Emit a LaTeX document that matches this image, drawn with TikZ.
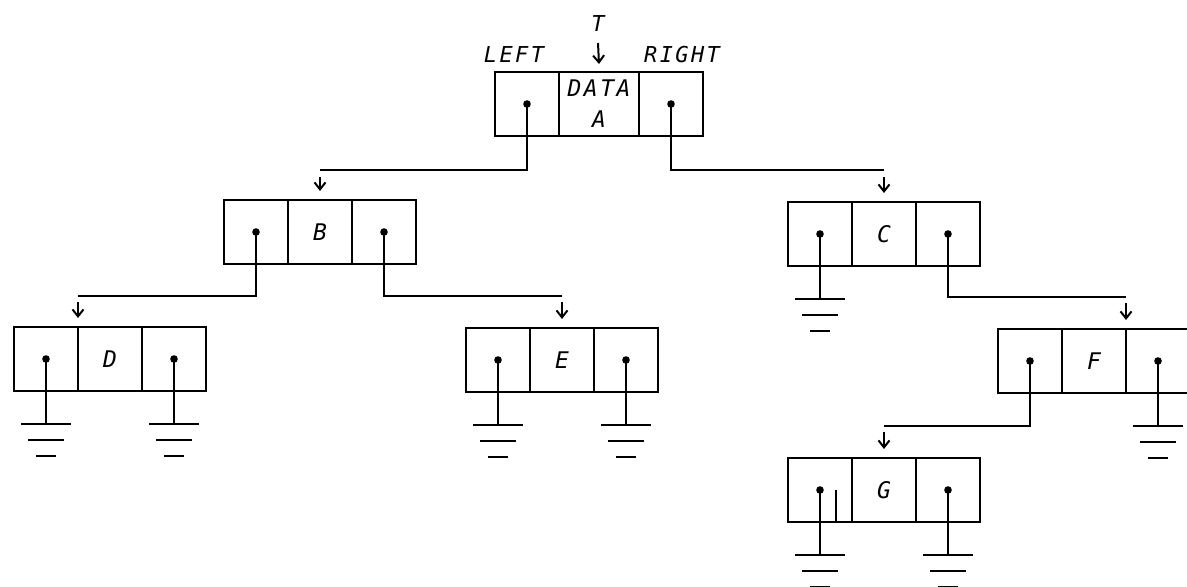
\documentclass[tikz,border=0pt]{standalone}
\usepackage{fontspec}
\newfontfamily\plotfont{DejaVu Sans Mono}[LetterSpace=11]
\usetikzlibrary{arrows.meta}
\begin{document}
\begin{tikzpicture}[x=1bp,y=-1bp,line width=2bp,
  txt/.style={font=\plotfont\itshape\fontsize{22}{31}\selectfont, inner sep=0pt},
  cell/.style={draw, rectangle, minimum width=64bp, minimum height=64bp,
    inner sep=0pt, outer sep=0pt, font=\plotfont\itshape\fontsize{23}{31}\selectfont},
  ptr/.style={cell, path picture={\fill (path picture bounding box.center) circle (3.8bp);}},
  down/.style={-{Straight Barb[length=7bp,width=11bp,line width=2bp]}, line width=2bp},
  earth/.pic={\draw (-25,0) -- (25,0); \draw (-18,16) -- (18,16); \draw (-10,32) -- (10,32);}
]
\useasboundingbox (0,0) rectangle (1187,587);
\clip (0,0) rectangle (1187,587);

% root record A
\node[ptr] (Al) at (527,104) {};
\node[cell, minimum width=80bp, align=center, anchor=west] (Ad) at (Al.east) {DATA\\A};
\node[ptr, anchor=west] (Ar) at (Ad.east) {};
\node[txt, anchor=base] (lblL) at (514,63) {LEFT};
\node[txt, anchor=base] (lblR) at (682,63) {RIGHT};
\node[txt, anchor=base] (T) at (598,32) {T};
\draw[down] ([yshift=-11bp]T.base) -- ([yshift=8bp]Ad.north);

% record B
\node[ptr] (Bl) at (256,232) {};
\node[cell, anchor=west] (Bd) at (Bl.east) {B};
\node[ptr, anchor=west] (Br) at (Bd.east) {};

% record C
\node[ptr] (Cl) at (820,234) {};
\node[cell, anchor=west] (Cd) at (Cl.east) {C};
\node[ptr, anchor=west] (Cr) at (Cd.east) {};

% record D
\node[ptr] (Dl) at (46,359) {};
\node[cell, anchor=west] (Dd) at (Dl.east) {D};
\node[ptr, anchor=west] (Dr) at (Dd.east) {};

% record E
\node[ptr] (El) at (498,360) {};
\node[cell, anchor=west] (Ed) at (El.east) {E};
\node[ptr, anchor=west] (Er) at (Ed.east) {};

% record F
\node[ptr] (Fl) at (1030,361) {};
\node[cell, anchor=west] (Fd) at (Fl.east) {F};
\node[ptr, anchor=west] (Fr) at (Fd.east) {};

% record G
\node[ptr] (Gl) at (820,490) {};
\node[cell, anchor=west] (Gd) at (Gl.east) {G};
\node[ptr, anchor=west] (Gr) at (Gd.east) {};
\draw ([xshift=16bp]Gl.center) -- ([xshift=16bp]Gl.south);

% links
\draw (Al.center) |- (Bd.north |- 0,170) coordinate (jAB);
\draw[down] ([yshift=-7bp]jAB) -- ([yshift=9bp]Bd.north);
\draw (Ar.center) |- (Cd.north |- 0,170) coordinate (jAC);
\draw[down] ([yshift=-7bp]jAC) -- ([yshift=9bp]Cd.north);
\draw (Bl.center) |- (Dd.north west |- 0,296) coordinate (jBD);
\draw[down] ([yshift=-6bp]jBD) -- ([yshift=9bp]Dd.north west);
\draw (Br.center) |- (Ed.north |- 0,296) coordinate (jBE);
\draw[down] ([yshift=-6bp]jBE) -- ([yshift=9bp]Ed.north);
\draw (Cr.center) |- (Fd.north east |- 0,297) coordinate (jCF);
\draw[down] ([yshift=-6bp]jCF) -- ([yshift=9bp]Fd.north east);
\draw (Fl.center) |- (Gd.north |- 0,426) coordinate (jFG);
\draw[down] ([yshift=-6bp]jFG) -- ([yshift=9bp]Gd.north);

% null pointers
\foreach \c in {Cl,Dl,Dr,El,Er,Fr,Gl,Gr}{
  \draw (\c.center) -- ([yshift=-33bp]\c.south) coordinate (g\c);
  \pic at (g\c) {earth};
}
\end{tikzpicture}
\end{document}
